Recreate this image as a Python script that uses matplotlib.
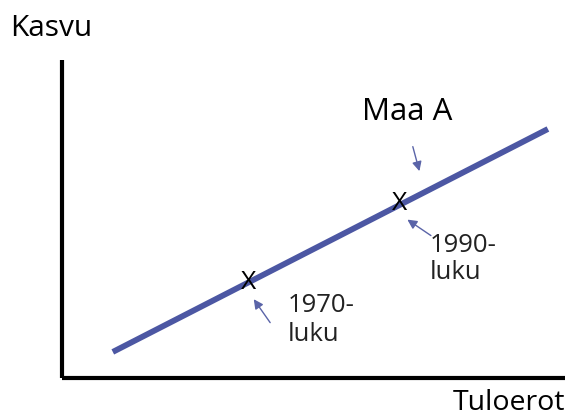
import matplotlib
matplotlib.use("Agg")
import matplotlib.pyplot as plt

# growth vs. income inequality, country A (schematic)
line_x = [10.1, 96.6]
line_y = [8.2, 78.3]

point_x = [37.0, 67.2]
point_y = [29.9, 54.8]
point_labels = ["1970-\nluku", "1990-\nluku"]

BLUE = "#4c57a3"
FONT = "Open Sans"

fig = plt.figure(figsize=(5.74, 4.17), dpi=100)
ax = fig.add_axes([62 / 574, 39 / 417, 503 / 574, 318 / 417])
ax.set_xlim(0, 100)
ax.set_ylim(0, 100)
for side in ("top", "right"):
    ax.spines[side].set_visible(False)
for side in ("left", "bottom"):
    ax.spines[side].set_linewidth(3)
    ax.spines[side].set_color("black")
    ax.spines[side].set_capstyle("butt")
ax.set_xticks([])
ax.set_yticks([])

ax.plot(line_x, line_y, color=BLUE, lw=4.2, solid_capstyle="butt")

for px, py in zip(point_x, point_y):
    ax.text(px, py, "X", ha="center", va="center", fontsize=19,
            family=FONT, color="black")

arrow = dict(arrowstyle="-|>", color="#5a64a8", lw=1.0, mutation_scale=14)
# Maa A label and arrow
ax.text(59.6, 83.6, "Maa A", ha="left", va="center", fontsize=22.5, family=FONT)
ax.annotate("", xy=(71.2, 64.2), xytext=(69.6, 73.6), arrowprops=arrow)

# period labels
ax.text(73.2, 45.6, point_labels[1], ha="left", va="top", fontsize=18.5,
        family=FONT, linespacing=1.1, color="#222222")
ax.annotate("", xy=(68.2, 50.3), xytext=(73.8, 44.3), arrowprops=arrow)

ax.text(44.9, 26.6, point_labels[0], ha="left", va="top", fontsize=18.5,
        family=FONT, linespacing=1.2, color="#222222")
ax.annotate("", xy=(37.8, 25.5), xytext=(41.7, 16.7), arrowprops=arrow)

# axis titles
ax.text(-10.3, 110, "Kasvu", ha="left", va="center", fontsize=21.5,
        family=FONT, clip_on=False)
ax.text(100, -8.0, "Tuloerot", ha="right", va="center", fontsize=20.5,
        family=FONT, clip_on=False)

fig.savefig("out.png", dpi=100)
